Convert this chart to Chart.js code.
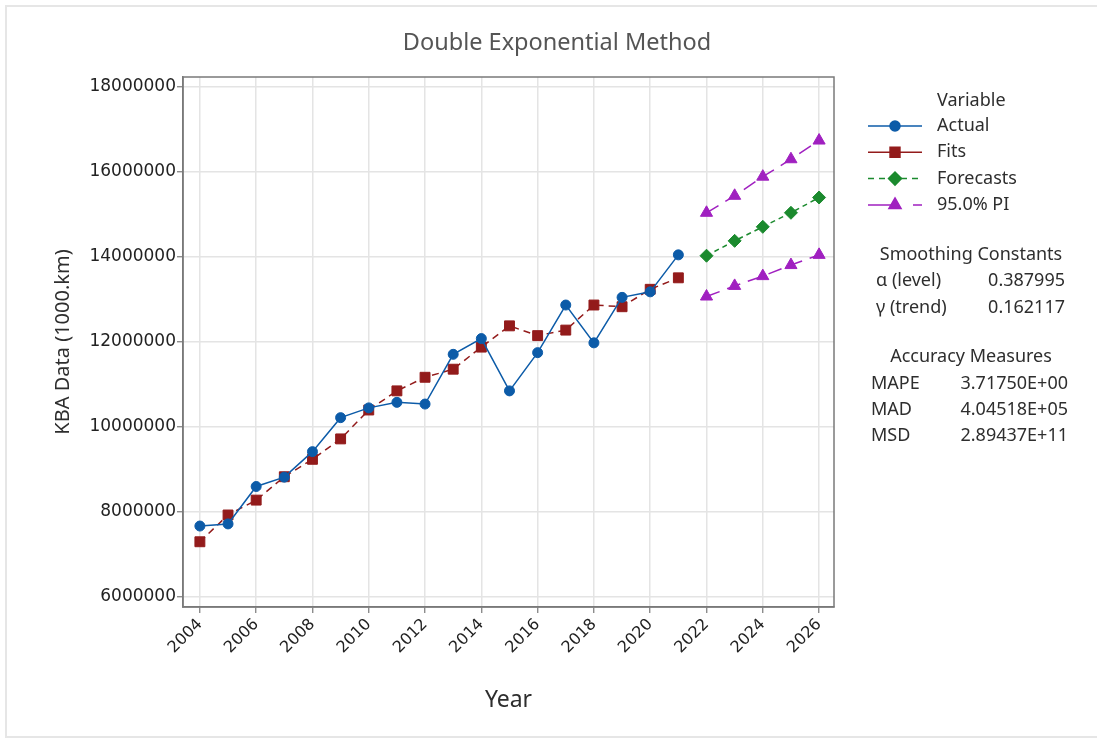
<!DOCTYPE html>
<html>
<head>
<meta charset="utf-8">
<title>Double Exponential Method</title>
<script src="https://cdn.jsdelivr.net/npm/chart.js@4.4.1/dist/chart.umd.min.js"></script>
<style>
  html, body { margin: 0; padding: 0; background: #fff; }
  #wrap { position: relative; width: 1097px; height: 738px; overflow: hidden; }
  #frame { position: absolute; left: 5px; top: 5px; width: 1110px; height: 729px; border: 2px solid #e6e6e6; }
  #chart { position: absolute; left: 0; top: 0; }
</style>
</head>
<body>
<div id="wrap">
  <div id="frame"></div>
  <canvas id="chart" width="1097" height="738"></canvas>
</div>
<script>
'use strict';

// ─── Datos ────────────────────────────────────────────────────────────────────

const years = [2004, 2005, 2006, 2007, 2008, 2009, 2010, 2011, 2012,
               2013, 2014, 2015, 2016, 2017, 2018, 2019, 2020, 2021];
const actual = [7670000, 7720000, 8600000, 8820000, 9420000, 10220000, 10450000, 10580000, 10540000,
                11710000, 12080000, 10850000, 11750000, 12870000, 11980000, 13050000, 13180000, 14050000];
const fits   = [7300000, 7930000, 8280000, 8830000, 9240000, 9720000, 10400000, 10850000, 11170000,
                11360000, 11880000, 12380000, 12150000, 12280000, 12870000, 12830000, 13240000, 13510000];

const forecastYears = [2022, 2023, 2024, 2025, 2026];
const forecasts = [14030000, 14380000, 14710000, 15040000, 15400000];
const piLower   = [13070000, 13320000, 13550000, 13810000, 14050000];
const piUpper   = [15040000, 15440000, 15890000, 16300000, 16740000];

const xTicks = [2004, 2006, 2008, 2010, 2012, 2014, 2016, 2018, 2020, 2022, 2024, 2026];
const yTicks = [6000000, 8000000, 10000000, 12000000, 14000000, 16000000, 18000000];

const smoothing = [['\u03b1 (level)', '0.387995'], ['\u03b3 (trend)', '0.162117']];
const accuracy  = [['MAPE', '3.71750E+00'], ['MAD', '4.04518E+05'], ['MSD', '2.89437E+11']];

// ─── Colores ──────────────────────────────────────────────────────────────────

const C = {
  actual: '#0c5ba8',
  fits:   '#931b1b',
  fc:     '#1b8a2e',
  pi:     '#a020c0',
  grid:   '#e4e4e4',
  frame:  '#7a7a7a',
  text:   '#2e2e2e',
};

const TXT_FONT = "'Noto Sans', 'Open Sans', sans-serif";
const TICK_FONT = "'DejaVu Sans', sans-serif";

function pts(xs, ys) {
  return xs.map(function(x, i) { return { x: x, y: ys[i] }; });
}

// ─── Plugin: marco, titulo, leyenda y tablas ─────────────────────────────────

const decor = {
  id: 'decor',
  beforeDatasetsDraw: function(chart) {
    const a = chart.chartArea;
    const ctx = chart.ctx;
    ctx.save();
    ctx.strokeStyle = C.frame;
    ctx.lineWidth = 1.5;
    ctx.setLineDash([]);
    ctx.strokeRect(a.left, a.top, a.right - a.left, a.bottom - a.top);
    ctx.restore();
  },
  afterDraw: function(chart) {
    const ctx = chart.ctx;
    ctx.save();
    ctx.textBaseline = 'middle';

    // titulo
    ctx.fillStyle = '#555555';
    ctx.font = '23.5px ' + TXT_FONT;
    ctx.textAlign = 'center';
    ctx.fillText('Double Exponential Method', 557, 43);

    // leyenda
    ctx.fillStyle = C.text;
    ctx.font = '18px ' + TXT_FONT;
    ctx.textAlign = 'left';
    ctx.fillText('Variable', 937, 101);

    chart.data.datasets.filter(function(ds) { return !ds.hideInLegend; }).forEach(function(ds, i) {
      const y = 126 + i * 26.3;
      ctx.strokeStyle = ds.borderColor;
      ctx.lineWidth = 1.5;
      ctx.setLineDash(ds.legendDash || []);
      ctx.beginPath();
      ctx.moveTo(868, y);
      ctx.lineTo(922, y);
      ctx.stroke();
      ctx.setLineDash([]);
      ctx.fillStyle = ds.pointBackgroundColor;
      ctx.strokeStyle = ds.pointBorderColor;
      Chart.helpers.drawPoint(ctx, {
        pointStyle: ds.pointStyle, radius: ds.pointRadius, rotation: 0, borderWidth: 1,
      }, 895, y);
      ctx.fillStyle = C.text;
      ctx.fillText(ds.label, 937, y);
    });

    // constantes de suavizado
    ctx.textAlign = 'center';
    ctx.fillText('Smoothing Constants', 971, 255);
    smoothing.forEach(function(r, i) {
      const y = 281 + i * 26.5;
      ctx.textAlign = 'left';
      ctx.fillText(r[0], 876, y);
      ctx.textAlign = 'right';
      ctx.fillText(r[1], 1065, y);
    });

    // medidas de precision
    ctx.textAlign = 'center';
    ctx.fillText('Accuracy Measures', 971, 357);
    accuracy.forEach(function(r, i) {
      const y = 384 + i * 26;
      ctx.textAlign = 'left';
      ctx.fillText(r[0], 871, y);
      ctx.textAlign = 'right';
      ctx.fillText(r[1], 1068, y);
    });
    ctx.restore();
  },
};

// ─── Grafica ──────────────────────────────────────────────────────────────────

new Chart(document.getElementById('chart').getContext('2d'), {
  type: 'line',
  data: {
    datasets: [
      {
        label: 'Actual',
        data: pts(years, actual),
        borderColor: C.actual, backgroundColor: C.actual,
        pointBackgroundColor: C.actual, pointBorderColor: C.actual,
        borderWidth: 1.5, pointStyle: 'circle', pointRadius: 5, pointBorderWidth: 1,
        legendDash: [],
      },
      {
        label: 'Fits',
        data: pts(years, fits),
        borderColor: C.fits, backgroundColor: C.fits,
        pointBackgroundColor: C.fits, pointBorderColor: C.fits,
        borderWidth: 1.5, borderDash: [7, 5], pointStyle: 'rect', pointRadius: 7, pointBorderWidth: 1,
        legendDash: [],
      },
      {
        label: 'Forecasts',
        data: pts(forecastYears, forecasts),
        borderColor: C.fc, backgroundColor: C.fc,
        pointBackgroundColor: C.fc, pointBorderColor: C.fc,
        borderWidth: 1.5, borderDash: [5, 4], pointStyle: 'rectRot', pointRadius: 6.5, pointBorderWidth: 1,
        legendDash: [6, 5],
      },
      {
        label: '95.0% PI',
        data: pts(forecastYears, piLower),
        borderColor: C.pi, backgroundColor: C.pi,
        pointBackgroundColor: C.pi, pointBorderColor: C.pi,
        borderWidth: 1.5, borderDash: [14, 8], pointStyle: 'triangle', pointRadius: 7, pointBorderWidth: 1,
        legendDash: [30, 15],
      },
      {
        label: '95.0% PI upper',
        data: pts(forecastYears, piUpper),
        borderColor: C.pi, backgroundColor: C.pi,
        pointBackgroundColor: C.pi, pointBorderColor: C.pi,
        borderWidth: 1.5, borderDash: [14, 8], pointStyle: 'triangle', pointRadius: 7, pointBorderWidth: 1,
        hideInLegend: true,
      },
    ],
  },
  options: {
    responsive: false,
    animation: false,
    devicePixelRatio: 1,
    layout: { padding: { left: 0, right: 263, top: 77, bottom: 0 } },
    elements: { line: { tension: 0, fill: false } },
    plugins: {
      legend: { display: false },
      title: { display: false },
      tooltip: { enabled: false },
    },
    scales: {
      x: {
        type: 'linear',
        min: 2003.4,
        max: 2026.53,
        afterBuildTicks: function(scale) {
          scale.ticks = xTicks.map(function(v) { return { value: v }; });
        },
        afterFit: function(scale) { scale.height = 131; },
        grid: { color: C.grid, lineWidth: 1.5, tickColor: C.frame, tickLength: 6, tickWidth: 1.2 },
        border: { display: true, color: C.frame, width: 1.5 },
        ticks: {
          minRotation: 45, maxRotation: 45, padding: 2,
          color: '#222222', font: { family: TICK_FONT, size: 16 },
          callback: function(v) { return String(v); },
        },
        title: {
          display: true, text: 'Year', color: C.text,
          font: { family: TXT_FONT, size: 23 }, padding: { top: 0, bottom: 24 },
        },
      },
      y: {
        type: 'linear',
        min: 5765000,
        max: 18235000,
        afterBuildTicks: function(scale) {
          scale.ticks = yTicks.map(function(v) { return { value: v }; });
        },
        afterFit: function(scale) { scale.width = 183; },
        grid: { color: C.grid, lineWidth: 1.5, tickColor: C.frame, tickLength: 6, tickWidth: 1.2 },
        border: { display: true, color: C.frame, width: 1.5 },
        ticks: {
          padding: 1,
          color: '#222222', font: { family: TICK_FONT, size: 17 },
          callback: function(v) { return String(v); },
        },
        title: {
          display: true, text: 'KBA Data (1000.km)', color: C.text,
          font: { family: TXT_FONT, size: 20 }, padding: { top: 51, bottom: 0 },
        },
      },
    },
  },
  plugins: [decor],
});
</script>
</body>
</html>
